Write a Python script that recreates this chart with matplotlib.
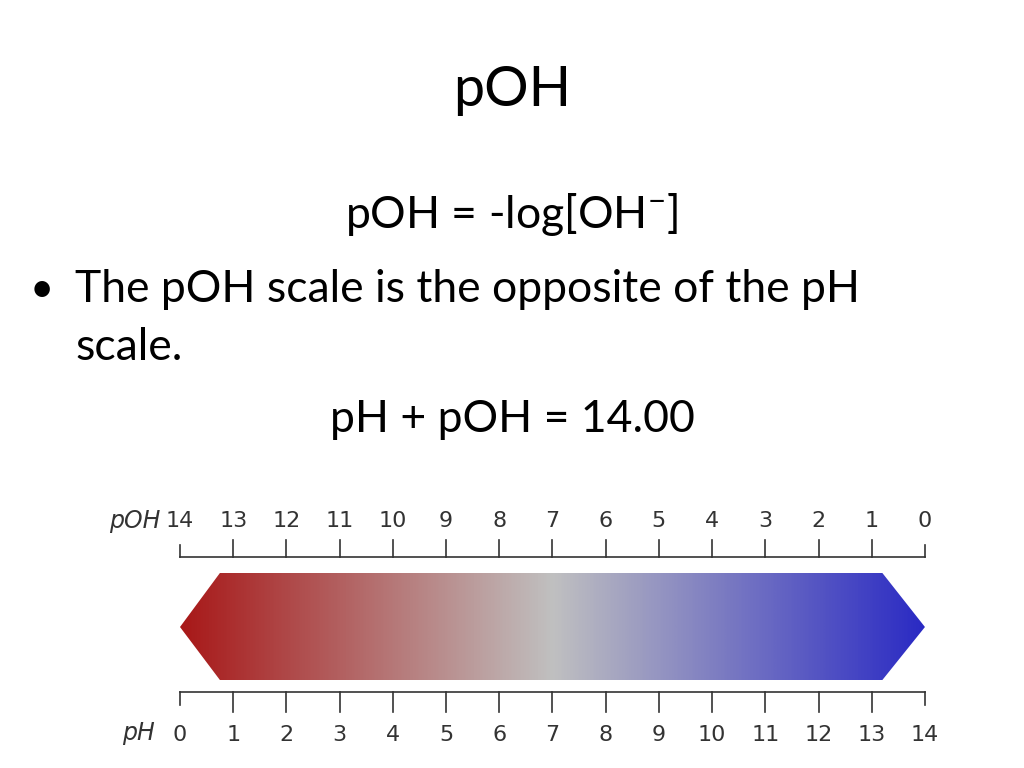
import numpy as np
import matplotlib
matplotlib.use("Agg")
import matplotlib.pyplot as plt
from matplotlib.patches import Polygon
from matplotlib.colors import LinearSegmentedColormap

ph_values = list(range(0, 15))
poh_labels = [str(14 - v) for v in ph_values]
ph_labels = [str(v) for v in ph_values]
grad_colors = ["#a81818", "#c0c0c0", "#2a2ac4"]

fig = plt.figure(figsize=(10.24, 7.68), dpi=100)
ax = fig.add_axes([0, 0, 1, 1])
ppu = 53.21
ax.set_xlim(-180 / ppu, (1024 - 180) / ppu)
ax.set_ylim(768, 0)
ax.axis("off")
F = "Lato"

xc = (512 - 180) / ppu
ax.text(xc, 90, "pOH", ha="center", va="center", fontsize=40, family=F)
ax.text(xc, 215, r"pOH = -log[OH$^{\mathregular{-}}$]", ha="center", va="center", fontsize=32, family=F)
ax.text((30 - 180) / ppu, 290, "•", ha="left", va="center", fontsize=30, family=F)
ax.text((75 - 180) / ppu, 290, "The pOH scale is the opposite of the pH", ha="left", va="center", fontsize=32, family=F)
ax.text((75 - 180) / ppu, 348, "scale.", ha="left", va="center", fontsize=32, family=F)
ax.text(xc, 420, "pH + pOH = 14.00", ha="center", va="center", fontsize=32, family=F)

# axes lines
ax.plot([0, 14], [557, 557], color="#333333", lw=1.2)
ax.plot([0, 14], [692, 692], color="#333333", lw=1.2)
for v, pl, hl in zip(ph_values, poh_labels, ph_labels):
    big = v in (0, 14)
    ax.plot([v, v], [557, 540 if not big else 545], color="#333333", lw=1.2)
    ax.plot([v, v], [692, 712 if not big else 705], color="#333333", lw=1.2)
    ax.text(v, 521, pl, ha="center", va="center", fontsize=16, color="#333333", family="DejaVu Sans")
    ax.text(v, 735, hl, ha="center", va="center", fontsize=16, color="#333333", family="DejaVu Sans")
ax.text((160 - 180) / ppu, 521, "pOH", ha="right", va="center", fontsize=17, style="italic", color="#333333", family="DejaVu Sans")
ax.text((155 - 180) / ppu, 733, "pH", ha="right", va="center", fontsize=17, style="italic", color="#333333", family="DejaVu Sans")

# gradient hexagon
cmap = LinearSegmentedColormap.from_list("ph", grad_colors)
grad = np.linspace(0, 1, 512).reshape(1, -1)
im = ax.imshow(grad, extent=[0, 14, 680, 573], aspect="auto", cmap=cmap, zorder=1)
poly = Polygon([[0, 627], [0.75, 573], [13.2, 573], [14, 627], [13.2, 680], [0.75, 680]],
               closed=True, facecolor="none", edgecolor="none", transform=ax.transData)
ax.add_patch(poly)
im.set_clip_path(poly)
ax.set_xlim(-180 / ppu, (1024 - 180) / ppu)
ax.set_ylim(768, 0)

fig.savefig("out.png", dpi=100)
